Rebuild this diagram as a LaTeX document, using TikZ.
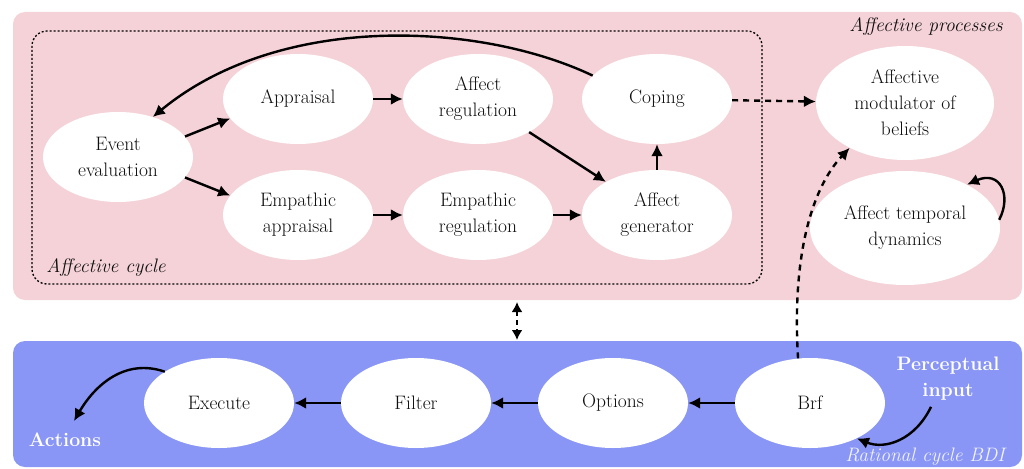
\documentclass[tikz,border=0pt]{standalone}
\usepackage{fontspec}
\usetikzlibrary{shapes.geometric,arrows.meta}
\definecolor{pinkbg}{RGB}{244,210,216}
\definecolor{bluebg}{RGB}{137,150,245}
\definecolor{txt}{RGB}{15,15,15}
\begin{document}
\begin{tikzpicture}[x=1pt,y=-1pt,
  font=\fontsize{19.5}{26}\selectfont,
  el/.style={ellipse, fill=white, minimum width=150pt, minimum height=90pt, inner sep=0pt, align=center, text=txt},
  arr/.style={line width=2.4pt, -{Latex[length=12pt,width=12pt]}},
  darr/.style={line width=2.4pt, dash pattern=on 6pt off 5pt, -{Latex[length=12pt,width=12pt]}},
  lbl/.style={inner sep=0pt, align=center}]
\useasboundingbox (0,0) rectangle (1024,468);
% backgrounds
\fill[pinkbg, rounded corners=12pt] (13,12) rectangle (1022,300);
\fill[bluebg, rounded corners=12pt] (13,341) rectangle (1022,467);
\draw[line width=1.3pt, dash pattern=on 2pt off 2pt, rounded corners=15pt] (32,31) rectangle (762,284);
\node[lbl, font=\fontsize{19.5}{26}\selectfont\itshape, text=txt] (cyc) at (106,268) {Affective cycle};
\node[lbl, font=\fontsize{19.5}{26}\selectfont\itshape, text=txt] (proc) at (926,27) {Affective processes};
% affective nodes
\node[el] (ev) at (118,157) {Event\\evaluation};
\node[el] (app) at (298,99) {Appraisal};
\node[el] (areg) at (478,99) {Affect\\regulation};
\node[el] (cop) at (657,99) {Coping};
\node[el] (eapp) at (298,215) {Empathic\\appraisal};
\node[el] (ereg) at (478,215) {Empathic\\regulation};
\node[el] (agen) at (657,215) {Affect\\generator};
\node[el, minimum width=178pt, minimum height=114pt] (mod) at (905,103) {Affective\\modulator of\\beliefs};
\node[el, minimum width=190pt, minimum height=114pt] (atd) at (905,228) {Affect temporal\\dynamics};
% BDI nodes
\node[el] (exe) at (219,403) {Execute};
\node[el] (fil) at (416,403) {Filter};
\node[el] (opt) at (613,403) {Options};
\node[el] (brf) at (810,403) {Brf};
\node[lbl, text=white, font=\fontsize{19.5}{26}\selectfont\bfseries] (perc) at (948,379) {Perceptual\\input};
\node[lbl, text=white, font=\fontsize{19.5}{26}\selectfont\bfseries] (act) at (65,440) {Actions};
\node[lbl, text=white!88!bluebg, font=\fontsize{19.5}{26}\selectfont\itshape] (rat) at (925,457) {Rational cycle BDI};
\coordinate (actend) at (74,421);
\coordinate (up) at (517,302);
\coordinate (down) at (517,340);
% affective edges
\draw[arr] (ev.17) -- (app.196);
\draw[arr] (ev.-17) -- (eapp.164);
\draw[arr] (app) -- (areg);
\draw[arr] (eapp) -- (ereg);
\draw[arr] (ereg) -- (agen);
\draw[arr] (areg) -- (agen);
\draw[arr] (agen) -- (cop);
\draw[arr] (cop.160) .. controls (480,22) and (280,12) .. (ev.49);
\draw[darr] (cop) -- (mod);
\draw[arr] (atd.5) .. controls (1012,195) and (1000,170) .. (atd.35);
\draw[darr] (brf.105) .. controls (792,260) and (810,190) .. (mod.219);
\draw[line width=2.4pt, dash pattern=on 5pt off 4pt, {Latex[length=10pt,width=11pt]}-{Latex[length=10pt,width=11pt]}] (up) -- (down);
% BDI edges
\draw[arr] (brf) -- (opt);
\draw[arr] (opt) -- (fil);
\draw[arr] (fil) -- (exe);
\draw[arr] (exe.150) .. controls (125,358) and (95,385) .. (actend);
\draw[arr] (perc.south) ++(-17,6) .. controls (915,440) and (885,450) .. (brf.-37);
\end{tikzpicture}
\end{document}
